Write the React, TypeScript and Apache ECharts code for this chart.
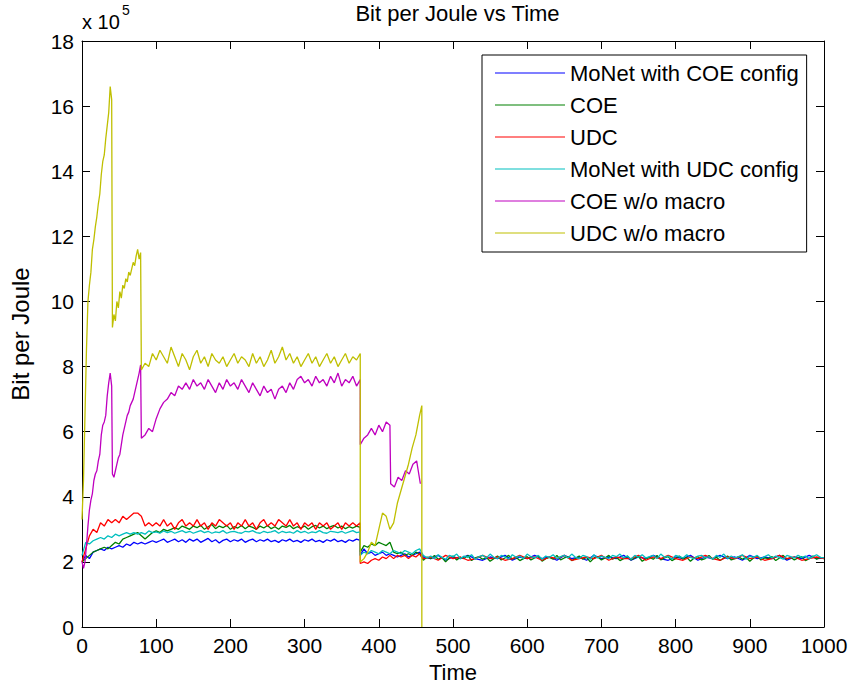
import React, { useEffect, useRef } from "react";
import * as echarts from "echarts";

const FONT = "'Liberation Sans', Arial, Helvetica, sans-serif";

const TITLE = "Bit per Joule vs Time";
const X_NAME = "Time";
const Y_NAME = "Bit per Joule";
const Y_SCALE_TEXT = "x 10";
const Y_SCALE_EXP = "5";

const SERIES_NAMES = [
  "MoNet with COE config",
  "COE",
  "UDC",
  "MoNet with UDC config",
  "COE w/o macro",
  "UDC w/o macro",
];
const SERIES_COLORS = ["#0000FF", "#008000", "#FF0000", "#00BFBF", "#BF00BF", "#BFBF00"];

// ---- MoNet with COE config (blue), values in 1e5 ----
const blueA = [
  2.0, 2.2, 2.1, 2.3, 2.35, 2.4, 2.35, 2.45, 2.4, 2.45,
  2.5, 2.45, 2.55, 2.5, 2.6, 2.55, 2.6, 2.55, 2.6, 2.65,
  2.6, 2.65, 2.7, 2.6, 2.65, 2.7, 2.62, 2.68, 2.6, 2.7,
  2.64, 2.7, 2.6, 2.66, 2.72, 2.62, 2.68, 2.58, 2.66, 2.7,
  2.62, 2.68, 2.64, 2.7, 2.6, 2.66, 2.7, 2.62, 2.68, 2.64,
  2.7, 2.62, 2.66, 2.6, 2.68, 2.64, 2.7, 2.62, 2.66, 2.6,
  2.68, 2.64, 2.7, 2.62, 2.66, 2.6, 2.68, 2.64, 2.7, 2.62,
  2.66, 2.6, 2.68, 2.64, 2.7, 2.66,
];
const blueB = [2.2, 2.4, 2.25, 2.3, 2.2, 2.25, 2.3, 2.2, 2.25, 2.2, 2.15, 2.2, 2.25, 2.15, 2.2, 2.25, 2.3, 2.15];
const blueC = [
  2.15, 2.1, 2.2, 2.05, 2.15, 2.1, 2.2, 2.1, 2.05, 2.15,
  2.1, 2.2, 2.05, 2.15, 2.1, 2.2, 2.1, 2.15, 2.05, 2.2,
  2.1, 2.15, 2.05, 2.2, 2.1, 2.15, 2.1, 2.2, 2.05, 2.15,
  2.1, 2.2, 2.1, 2.05, 2.15, 2.1, 2.2, 2.05, 2.15, 2.1,
  2.2, 2.1, 2.15, 2.05, 2.2, 2.1, 2.15, 2.1, 2.2, 2.05,
  2.15, 2.1, 2.2, 2.1, 2.12,
];

// ---- COE (green) ----
const greenA = [
  2.0, 2.1, 2.2, 2.3, 2.35, 2.4, 2.45, 2.4, 2.5, 2.6,
  2.55, 2.7, 2.75, 2.8, 2.85, 2.9, 2.8, 2.7, 2.8, 2.9,
  2.95, 2.9, 3.0, 2.95, 3.0, 3.05, 3.0, 3.1, 3.05, 3.0,
  3.1, 3.05, 3.12, 3.0, 3.08, 3.15, 3.02, 3.1, 3.05, 3.12,
  3.0, 3.08, 3.04, 3.12, 3.02, 3.1, 3.06, 3.0, 3.1, 3.04,
  3.12, 3.02, 3.08, 3.0, 3.1, 3.06, 3.12, 3.02, 3.08, 3.04,
  3.1, 3.0, 3.08, 3.12, 3.04, 3.1, 3.02, 3.08, 3.12, 3.04,
  3.1, 3.02, 3.08, 3.04, 3.1, 3.06,
];
const greenB = [2.3, 2.5, 2.45, 2.55, 2.5, 2.6, 2.55, 2.5, 2.6, 2.3, 2.25, 2.3, 2.2, 2.25, 2.2, 2.3, 2.25, 2.05];
const greenC = [
  2.05, 2.15, 2.1, 2.2, 2.08, 2.14, 2.0, 2.12, 2.18, 2.06,
  2.14, 2.1, 2.2, 2.04, 2.12, 2.16, 2.08, 2.14, 2.02, 2.1,
  2.18, 2.06, 2.12, 2.2, 2.08, 2.14, 2.04, 2.1, 2.16, 2.06,
  2.12, 2.18, 2.02, 2.1, 2.14, 2.08, 2.2, 2.06, 2.12, 2.16,
  2.04, 2.1, 2.18, 2.08, 2.14, 2.0, 2.12, 2.16, 2.06, 2.12,
  2.2, 2.08, 2.14, 2.04, 2.1, 2.18, 2.06, 2.12, 2.16, 2.02,
  2.1, 2.14, 2.08, 2.2, 2.06, 2.12, 2.16, 2.04, 2.1, 2.18,
  2.08, 2.14, 2.02, 2.12, 2.16, 2.06, 2.1, 2.2, 2.08, 2.14,
  2.04, 2.12, 2.18, 2.06, 2.1, 2.16, 2.08, 2.14, 2.02, 2.12,
  2.18, 2.06, 2.12, 2.1, 2.16, 2.04, 2.12, 2.2, 2.08, 2.14,
  2.06, 2.12, 2.16, 2.04, 2.1, 2.18, 2.08, 2.14, 2.1,
];

// ---- UDC (red) ----
const redA = [
  2.0, 2.4, 2.8, 3.0, 2.9, 3.2, 3.1, 3.3, 3.2, 3.3,
  3.2, 3.4, 3.3, 3.4, 3.5, 3.5, 3.4, 3.1, 3.2, 3.1,
  3.2, 3.1, 3.3, 3.1, 3.2, 3.0, 3.2, 3.3, 3.1, 3.2,
  3.1, 3.3, 3.1, 3.2, 3.0, 3.2, 3.1, 3.3, 3.2, 3.1,
  3.2, 3.0, 3.2, 3.1, 3.3, 3.1, 3.2, 3.0, 3.2, 3.3,
  3.1, 3.2, 3.1, 3.3, 3.2, 3.1, 3.3, 3.1, 3.2, 3.0,
  3.2, 3.1, 3.2, 3.0, 3.2, 3.1, 3.2, 3.0, 3.1, 3.2,
  3.0, 3.2, 3.1, 3.2, 3.1, 3.2,
];
const redB = [1.95, 2.0, 1.95, 2.05, 2.1, 2.05, 2.15, 2.1, 2.2, 2.1, 2.2, 2.15, 2.2, 2.1, 2.2, 2.15, 2.25, 2.1];
const redC = [
  2.1, 2.15, 2.05, 2.2, 2.1, 2.15, 2.05, 2.1, 2.2, 2.1,
  2.15, 2.05, 2.1, 2.2, 2.1, 2.15, 2.05, 2.15, 2.1, 2.2,
  2.05, 2.1, 2.15, 2.1, 2.2, 2.05, 2.15, 2.1, 2.1, 2.2,
  2.05, 2.15, 2.1, 2.2, 2.1, 2.05, 2.15, 2.1, 2.2, 2.1,
  2.05, 2.15, 2.1, 2.2, 2.1, 2.15, 2.05, 2.1, 2.2, 2.1,
  2.15, 2.05, 2.1, 2.15, 2.1,
];

// ---- MoNet with UDC config (cyan) ----
const cyanA = [
  2.2, 2.6, 2.55, 2.65, 2.7, 2.75, 2.7, 2.8, 2.75, 2.85,
  2.8, 2.85, 2.9, 2.85, 2.9, 2.85, 2.9, 2.85, 2.95, 2.9,
  2.92, 2.88, 2.95, 2.9, 2.94, 2.88, 2.92, 2.96, 2.9, 2.94,
  2.88, 2.92, 2.96, 2.9, 2.94, 2.88, 2.92, 2.9, 2.96, 2.88,
  2.92, 2.94, 2.9, 2.88, 2.94, 2.92, 2.96, 2.9, 2.88, 2.94,
  2.9, 2.92, 2.96, 2.88, 2.94, 2.9, 2.92, 2.88, 2.96, 2.9,
  2.94, 2.88, 2.92, 2.9, 2.96, 2.9, 2.88, 2.94, 2.92, 2.9,
  2.94, 2.88, 2.92, 2.96, 2.9, 2.92,
];
const cyanB = [2.2, 2.3, 2.25, 2.35, 2.3, 2.25, 2.35, 2.3, 2.25, 2.35, 2.3, 2.25, 2.35, 2.3, 2.25, 2.35, 2.4, 2.2];
const cyanC = [
  2.2, 2.12, 2.18, 2.1, 2.22, 2.14, 2.08, 2.2, 2.16, 2.24,
  2.1, 2.18, 2.14, 2.22, 2.08, 2.16, 2.2, 2.12, 2.24, 2.14,
  2.1, 2.2, 2.16, 2.08, 2.22, 2.14, 2.18, 2.1, 2.24, 2.16,
  2.12, 2.2, 2.08, 2.18, 2.14, 2.22, 2.1, 2.16, 2.2, 2.12,
  2.24, 2.14, 2.1, 2.2, 2.16, 2.08, 2.22, 2.12, 2.18, 2.14,
  2.1, 2.2, 2.16, 2.24, 2.12, 2.18, 2.08, 2.2, 2.14, 2.22,
  2.12, 2.16, 2.2, 2.1, 2.24, 2.14, 2.18, 2.08, 2.2, 2.16,
  2.12, 2.22, 2.14, 2.1, 2.18, 2.2, 2.12, 2.16, 2.08, 2.2,
  2.14, 2.24, 2.1, 2.18, 2.12, 2.16, 2.22, 2.08, 2.18, 2.14,
  2.2, 2.1, 2.16, 2.22, 2.12, 2.18, 2.14, 2.08, 2.2, 2.16,
  2.12, 2.2, 2.14, 2.18, 2.1, 2.16, 2.22, 2.14, 2.12,
];

// ---- COE w/o macro (magenta) ----
const magentaA = [2.0, 1.8, 2.0, 2.5, 3.1, 3.6, 3.9, 4.1, 4.5, 4.7, 4.8, 5.1, 5.3, 5.9, 6.2, 6.3, 6.5, 7.1, 7.5, 7.8, 7.4];
const magentaB = [4.7, 4.6, 4.8, 5.0, 5.2, 5.3, 5.6, 5.9, 6.1, 6.3, 6.5, 6.6, 6.8, 6.9, 7.0, 7.2, 7.4, 7.6, 7.8, 8.05];
const magentaC = [
  5.8, 5.9, 6.1, 6.0, 6.4, 6.7, 6.9, 7.0, 7.2, 7.1,
  7.4, 7.3, 7.5, 7.3, 7.6, 7.4, 7.5, 7.3, 7.6, 7.4,
  7.2, 7.5, 7.3, 7.6, 7.4, 7.5, 7.3, 7.6, 7.4, 7.2,
  7.5, 7.3, 7.1, 7.4, 7.2, 7.3, 7.0, 7.3, 7.4, 7.2,
  7.5, 7.3, 7.6, 7.7, 7.5, 7.6, 7.4, 7.7, 7.5, 7.6,
  7.4, 7.7, 7.5, 7.8, 7.4, 7.6, 7.5, 7.7, 7.4, 7.6,
];
const magentaD = [5.6, 5.8, 5.9, 6.1, 5.9, 6.2, 6.0, 6.3, 6.2];
const magentaE = [4.4, 4.3, 4.6, 4.5, 4.8, 4.7, 5.0, 5.1, 4.4];

// ---- UDC w/o macro (olive yellow) ----
const yellowA = [3.3, 4.5, 6.5, 8.5, 10.0, 10.5, 10.9, 11.6, 11.9, 12.3, 12.6, 13.0, 13.3, 13.9, 14.3, 14.5, 15.0, 15.4, 15.8, 16.6, 16.2];
const yellowB = [9.2, 9.6, 9.4, 10.0, 9.8, 10.3, 10.1, 10.5, 10.4, 10.7, 10.6, 10.9, 10.8, 11.0, 11.2, 11.1, 11.4, 11.6, 11.3, 11.5];
const yellowC = [
  7.9, 8.1, 8.0, 8.4, 8.2, 8.5, 8.3, 8.1, 8.6, 8.3,
  8.0, 8.4, 8.2, 7.9, 8.3, 8.5, 8.1, 8.3, 8.0, 8.4,
  8.2, 8.1, 8.3, 8.0, 8.2, 8.4, 8.1, 8.3, 8.2, 8.0,
  8.4, 8.1, 8.3, 8.0, 8.2, 8.5, 8.1, 8.3, 8.6, 8.2,
  8.4, 8.1, 8.3, 8.0, 8.2, 8.4, 8.1, 8.3, 8.0, 8.2,
  8.4, 8.1, 8.3, 8.0, 8.2, 8.4, 8.1, 8.3, 8.2, 8.4,
];
const yellowD = [2.0, 2.1, 2.3, 2.6, 2.5, 3.0, 3.5, 3.4, 3.0, 3.2, 3.8, 4.2, 4.6, 5.0, 5.5, 5.9, 6.5];
const yellowE = [6.8, 0];

// segment helper: pairs each value with its sample time
function seg(t0: number, step: number, vals: number[]): number[][] {
  return vals.map((v, i) => [t0 + i * step, v]);
}

const SERIES_DATA: number[][][] = [
  [...seg(0, 5, blueA), ...seg(375, 5, blueB), ...seg(460, 10, blueC)],
  [...seg(0, 5, greenA), ...seg(375, 5, greenB), ...seg(460, 5, greenC)],
  [...seg(0, 5, redA), ...seg(375, 5, redB), ...seg(460, 10, redC)],
  [...seg(0, 5, cyanA), ...seg(375, 5, cyanB), ...seg(460, 5, cyanC)],
  [...seg(0, 2, magentaA), ...seg(41, 2, magentaB), ...seg(80, 5, magentaC), ...seg(375, 5, magentaD), ...seg(416, 5, magentaE)],
  [...seg(0, 2, yellowA), ...seg(41, 2, yellowB), ...seg(80, 5, yellowC), ...seg(375, 5, yellowD), ...seg(458, 0, yellowE)],
];

const X_MIN = 0, X_MAX = 1000, X_STEP = 100;
const Y_MIN = 0, Y_MAX = 18, Y_STEP = 2;

export default function App() {
  const ref = useRef<HTMLDivElement>(null);
  useEffect(() => {
    if (!ref.current) return;
    const chart = echarts.init(ref.current, undefined, { renderer: "svg" });
    const txt = { fontFamily: FONT, fontSize: 22, color: "#000" };
    const tickTxt = { fontFamily: FONT, fontSize: 21, color: "#000" };
    const axisLine = { show: true, onZero: false, lineStyle: { color: "#000", width: 1 } };
    const axisTick = { show: true, inside: true, length: 8, lineStyle: { color: "#000", width: 1 } };
    chart.setOption({
      animation: false,
      backgroundColor: "#fff",
      title: {
        text: TITLE,
        left: 452.5,
        textAlign: "center",
        top: 0,
        padding: [2, 5],
        textStyle: { ...txt, fontWeight: "normal" },
      },
      grid: { left: 81, top: 41, width: 743, height: 586, containLabel: false },
      xAxis: [
        {
          type: "value", min: X_MIN, max: X_MAX, interval: X_STEP, position: "bottom",
          axisLine, axisTick, splitLine: { show: false },
          axisLabel: { ...tickTxt, margin: 8, formatter: (v: number) => String(v) },
          name: X_NAME, nameLocation: "middle", nameGap: 34, nameTextStyle: txt,
        },
        {
          type: "value", min: X_MIN, max: X_MAX, interval: X_STEP, position: "top",
          axisLine, axisTick, splitLine: { show: false }, axisLabel: { show: false },
        },
      ],
      yAxis: [
        {
          type: "value", min: Y_MIN, max: Y_MAX, interval: Y_STEP, position: "left",
          axisLine, axisTick, splitLine: { show: false },
          axisLabel: { ...tickTxt, margin: 8, formatter: (v: number) => String(v) },
          name: Y_NAME, nameLocation: "middle", nameGap: 50, nameTextStyle: { ...txt, fontSize: 24 },
        },
        {
          type: "value", min: Y_MIN, max: Y_MAX, interval: Y_STEP, position: "right",
          axisLine, axisTick, splitLine: { show: false }, axisLabel: { show: false },
        },
      ],
      legend: {
        orient: "vertical",
        left: 482,
        top: 55,
        padding: [7, 8, 8, 13],
        icon: "rect",
        itemWidth: 70,
        itemHeight: 1,
        itemGap: 10,
        borderColor: "#000",
        borderWidth: 1,
        borderRadius: 0,
        backgroundColor: "#fff",
        textStyle: { ...txt, lineHeight: 22 },
        data: SERIES_NAMES,
      },
      graphic: [
        { type: "text", left: 82, top: 12, style: { text: Y_SCALE_TEXT, fill: "#000", font: `20px ${FONT}` } },
        { type: "text", left: 122, top: 3, style: { text: Y_SCALE_EXP, fill: "#000", font: `14px ${FONT}` } },
      ],
      series: SERIES_NAMES.map((name, i) => ({
        name,
        type: "line",
        data: SERIES_DATA[i],
        symbol: "none",
        showSymbol: false,
        color: SERIES_COLORS[i],
        itemStyle: { color: SERIES_COLORS[i] },
        lineStyle: { color: SERIES_COLORS[i], width: 1.3 },
        xAxisIndex: 0,
        yAxisIndex: 0,
        z: 2 + i * 0.01,
      })),
    });
    return () => chart.dispose();
  }, []);
  return (
    <div
      ref={ref}
      style={{ position: "fixed", left: 0, top: 0, width: 852, height: 691, background: "#fff" }}
    />
  );
}
